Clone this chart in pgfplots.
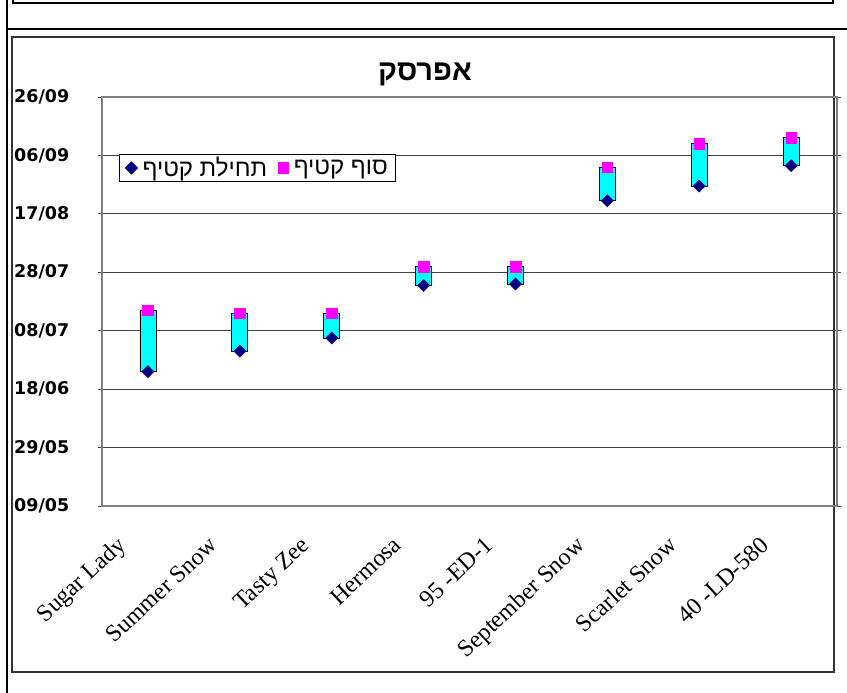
\documentclass[border=0pt]{standalone}
\usepackage{fontspec}
\usepackage{pgfplots}
\pgfplotsset{compat=1.18}
\usepackage{pgfplotstable}
\setmainfont{Liberation Serif}
\newfontfamily\hebfont[Script=Hebrew]{Liberation Sans}
\newfontfamily\tickfont{DejaVu Sans}
\TeXXeTstate=1
\definecolor{startnavy}{HTML}{000080}
\definecolor{endmagenta}{HTML}{FF00FF}
\definecolor{barcyan}{HTML}{00FFFF}

% harvest start / end, in days after 09/05
\pgfplotstableread{
x   start end
0.5 46    67
1.5 53    66
2.5 57.5  66
3.5 75.5  82
4.5 76    82
5.5 104.5 116
6.5 109.5 124
7.5 116.5 126
}\harvest

\begin{document}
\begin{tikzpicture}
\useasboundingbox (0pt,0pt) rectangle (847pt,693pt);
% frames of the sheet
\draw[line width=2pt] (7pt,0pt) -- (7pt,693pt);
\draw[line width=1.2pt] (13pt,693pt) -- (13pt,690pt) -- (833pt,690pt) -- (833pt,693pt);
\draw[line width=2.2pt] (7pt,664pt) -- (847pt,664pt);
\draw[line width=1.3pt, black!80] (12pt,21pt) rectangle (834pt,656pt);
\node[font=\hebfont\bfseries\fontsize{29}{33}\selectfont] at (425pt,619pt) {\beginR אפרסק\endR};

\begin{axis}[
    at={(102pt,187pt)}, anchor=south west,
    width=735pt, height=409pt, scale only axis,
    xmin=0, xmax=8, ymin=0, ymax=140,
    ybar stacked, bar width=16pt,
    xtick={0.5,1.5,...,7.5},
    xticklabels={Sugar Lady, Summer Snow, Tasty Zee, Hermosa, 95 -ED-1, September Snow, Scarlet Snow, 40 -LD-580},
    ytick={0,20,...,140},
    yticklabels={09/05,29/05,18/06,08/07,28/07,17/08,06/09,26/09},
    ymajorgrids, grid style={black!75, line width=0.8pt},
    axis line style={gray, line width=1.5pt},
    xtick style={draw=none},
    ytick style={black!75, line width=0.8pt},
    tick align=outside, major tick length=4pt,
    yticklabel style={font=\tickfont\bfseries\fontsize{17.5}{19}\selectfont, anchor=west, xshift=-84pt, inner sep=0pt},
    xticklabel style={font=\fontsize{24}{26}\selectfont, inner sep=0pt,
      xshift=-21pt, yshift=-37pt, rotate=43, anchor=base east},
  ]
  \addplot[draw=none, fill=none] table[x=x, y=start] {\harvest};
  \addplot[draw=black, line width=0.8pt, fill=barcyan] table[x=x, y expr=\thisrow{end}-\thisrow{start}] {\harvest};
\end{axis}

\begin{axis}[
    at={(102pt,187pt)}, anchor=south west,
    width=735pt, height=409pt, scale only axis,
    xmin=0, xmax=8, ymin=0, ymax=140,
    hide axis, clip=false,
    legend columns=2,
    legend style={at={(0.0231,0.8606)}, anchor=north west, draw=black, line width=0.8pt,
      font=\hebfont\fontsize{24}{26}\selectfont, inner xsep=6pt, inner ysep=1pt,
      /tikz/every odd column/.append style={column sep=3pt},
      /tikz/every even column/.append style={column sep=9pt}},
  ]
  \addplot[only marks, mark=square*, mark size=4.3pt, color=startnavy, mark options={rotate=45}] table[x=x, y=start] {\harvest};
  \addlegendentry{\beginR תחילת קטיף\endR}
  \addplot[only marks, mark=square*, mark size=5.3pt, color=endmagenta] table[x=x, y=end] {\harvest};
  \addlegendentry{\beginR סוף קטיף\endR}
\end{axis}
\end{tikzpicture}
\end{document}
